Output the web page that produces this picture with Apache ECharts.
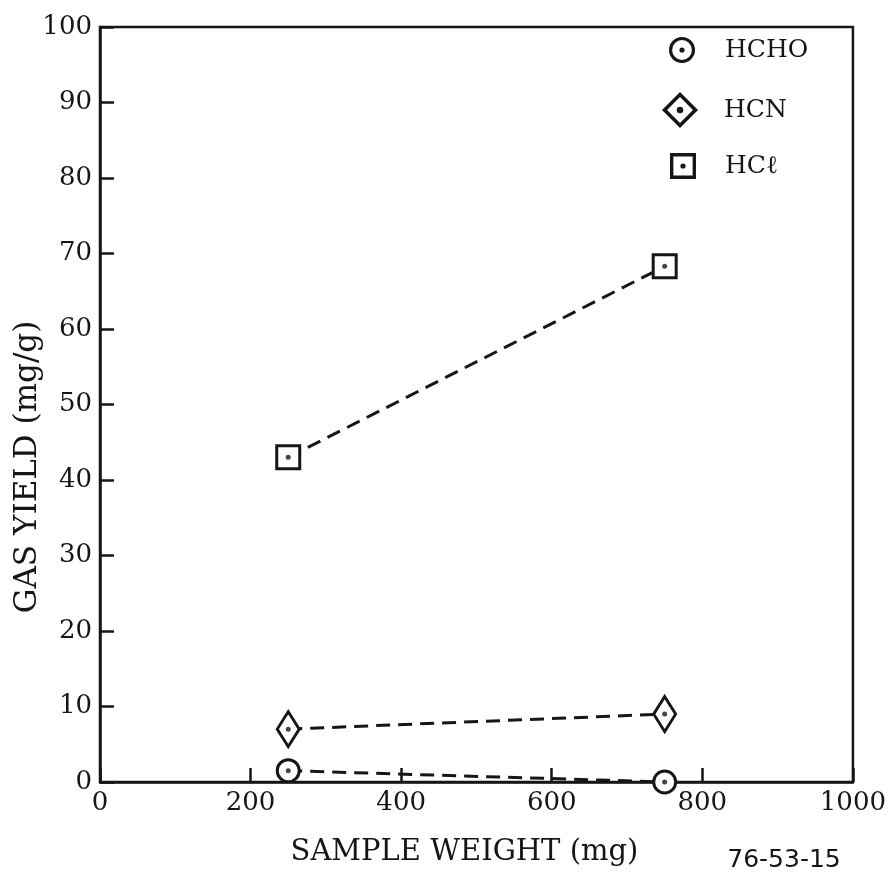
<!DOCTYPE html>
<html>
<head>
<meta charset="utf-8">
<script src="https://cdn.jsdelivr.net/npm/echarts@6/dist/echarts.min.js"></script>
<style>html,body{margin:0;padding:0;background:#fff}#c{width:889px;height:881px}</style>
</head>
<body>
<div id="c"></div>
<script>
// ---- data ----
const sampleWeights = [250, 750];
const hchoValues = [1.5, 0];
const hcnValues = [7, 9];
const hclValues = [43, 68.3];
const seriesNames = ['HCHO', 'HCN', 'HC\u2113'];
const xTicks = [0, 200, 400, 600, 800, 1000];
const yTicks = [0, 10, 20, 30, 40, 50, 60, 70, 80, 90, 100];
const xTitle = 'SAMPLE WEIGHT (mg)';
const yTitle = 'GAS YIELD (mg/g)';
const figureCode = '76-53-15';

const INK = '#161616';
const SERIF = '"DejaVu Serif", "Liberation Serif", serif';

const ringPath = 'path://M50,0A50,50,0,1,1,50,100A50,50,0,1,1,50,0ZM50,12A38,38,0,1,0,50,88A38,38,0,1,0,50,12ZM50,40A10,10,0,1,1,50,60A10,10,0,1,1,50,40Z';
const diamondPath = 'path://M50,0L100,50L50,100L0,50ZM50,14L14,50L50,86L86,50ZM50,41A9,9,0,1,1,50,59A9,9,0,1,1,50,41Z';
const squarePath = 'path://M0,0L100,0L100,100L0,100ZM13,13L13,87L87,87L87,13ZM50,40A10,10,0,1,1,50,60A10,10,0,1,1,50,40Z';

const valueSets = [hchoValues, hcnValues, hclValues];
const symbols = ['circle', 'diamond', 'rect'];
const symbolSizes = [22, [22, 35], 23];

function pairs(vals) { return sampleWeights.map((x, i) => [x, vals[i]]); }

const series = [];
valueSets.forEach((vals, k) => {
  series.push({
    name: seriesNames[k] + '-line', type: 'line', data: pairs(vals),
    showSymbol: false, symbol: 'none', z: 2, silent: true,
    lineStyle: { color: INK, width: 3, type: [14, 8] }
  });
});
valueSets.forEach((vals, k) => {
  series.push({
    name: seriesNames[k], type: 'scatter', data: pairs(vals), z: 3,
    symbol: symbols[k], symbolSize: symbolSizes[k],
    itemStyle: { color: '#fff', borderColor: INK, borderWidth: 3, opacity: 1 }
  });
});
valueSets.forEach((vals, k) => {
  series.push({
    name: seriesNames[k] + '-dot', type: 'scatter', data: pairs(vals), z: 4,
    symbol: 'circle', symbolSize: 5, silent: true,
    itemStyle: { color: INK }
  });
});

function makeLegend(name, icon, centerX, centerY, w, h) {
  return {
    data: [{ name: name, icon: icon }],
    left: centerX - w / 2, top: centerY - h / 2, padding: 0, orient: 'vertical',
    itemWidth: w, itemHeight: h, selectedMode: false,
    itemStyle: { color: INK, borderWidth: 0, borderColor: INK },
    textStyle: { fontFamily: SERIF, fontSize: 25, color: INK, padding: [0, 0, 0, 725 - (centerX + w / 2) - 5] }
  };
}

const chart = echarts.init(document.getElementById('c'), null, { renderer: 'canvas' });
chart.setOption({
  backgroundColor: '#fff',
  animation: false,
  grid: { left: 100, right: 34, top: 27, bottom: 99, show: true, borderColor: INK, borderWidth: 2.5, backgroundColor: 'transparent' },
  xAxis: {
    type: 'value', min: xTicks[0], max: xTicks[xTicks.length - 1], interval: 200,
    name: xTitle, nameLocation: 'middle', nameGap: 56,
    nameTextStyle: { fontFamily: SERIF, fontSize: 29, color: INK, padding: [0, 24, 0, 0] },
    axisLine: { show: true, lineStyle: { color: INK, width: 2.5 } },
    axisTick: { show: true, inside: true, length: 14, lineStyle: { color: INK, width: 2.5 } },
    axisLabel: { fontFamily: SERIF, fontSize: 26, color: INK, margin: 8, formatter: v => String(v) },
    splitLine: { show: false }
  },
  yAxis: {
    type: 'value', min: yTicks[0], max: yTicks[yTicks.length - 1], interval: 10,
    axisLine: { show: true, lineStyle: { color: INK, width: 2.5 } },
    axisTick: { show: true, inside: true, length: 14, lineStyle: { color: INK, width: 2.5 } },
    axisLabel: { fontFamily: SERIF, fontSize: 26, color: INK, margin: 8, formatter: v => String(v) },
    splitLine: { show: false }
  },
  legend: [
    makeLegend(seriesNames[0], ringPath, 682, 50, 26, 26),
    makeLegend(seriesNames[1], diamondPath, 681, 110, 38, 36),
    makeLegend(seriesNames[2], squarePath, 683, 166, 26, 26)
  ],
  graphic: [
    { type: 'text', x: 28, y: 467, rotation: Math.PI / 2,
      style: { text: yTitle, font: '31px ' + SERIF, fill: INK, align: 'center', verticalAlign: 'middle' } },
    { type: 'text', x: 784, y: 860,
      style: { text: figureCode, font: '25px "DejaVu Sans", sans-serif', fill: INK, align: 'center', verticalAlign: 'middle' } }
  ],
  series: series
});
</script>
</body>
</html>
